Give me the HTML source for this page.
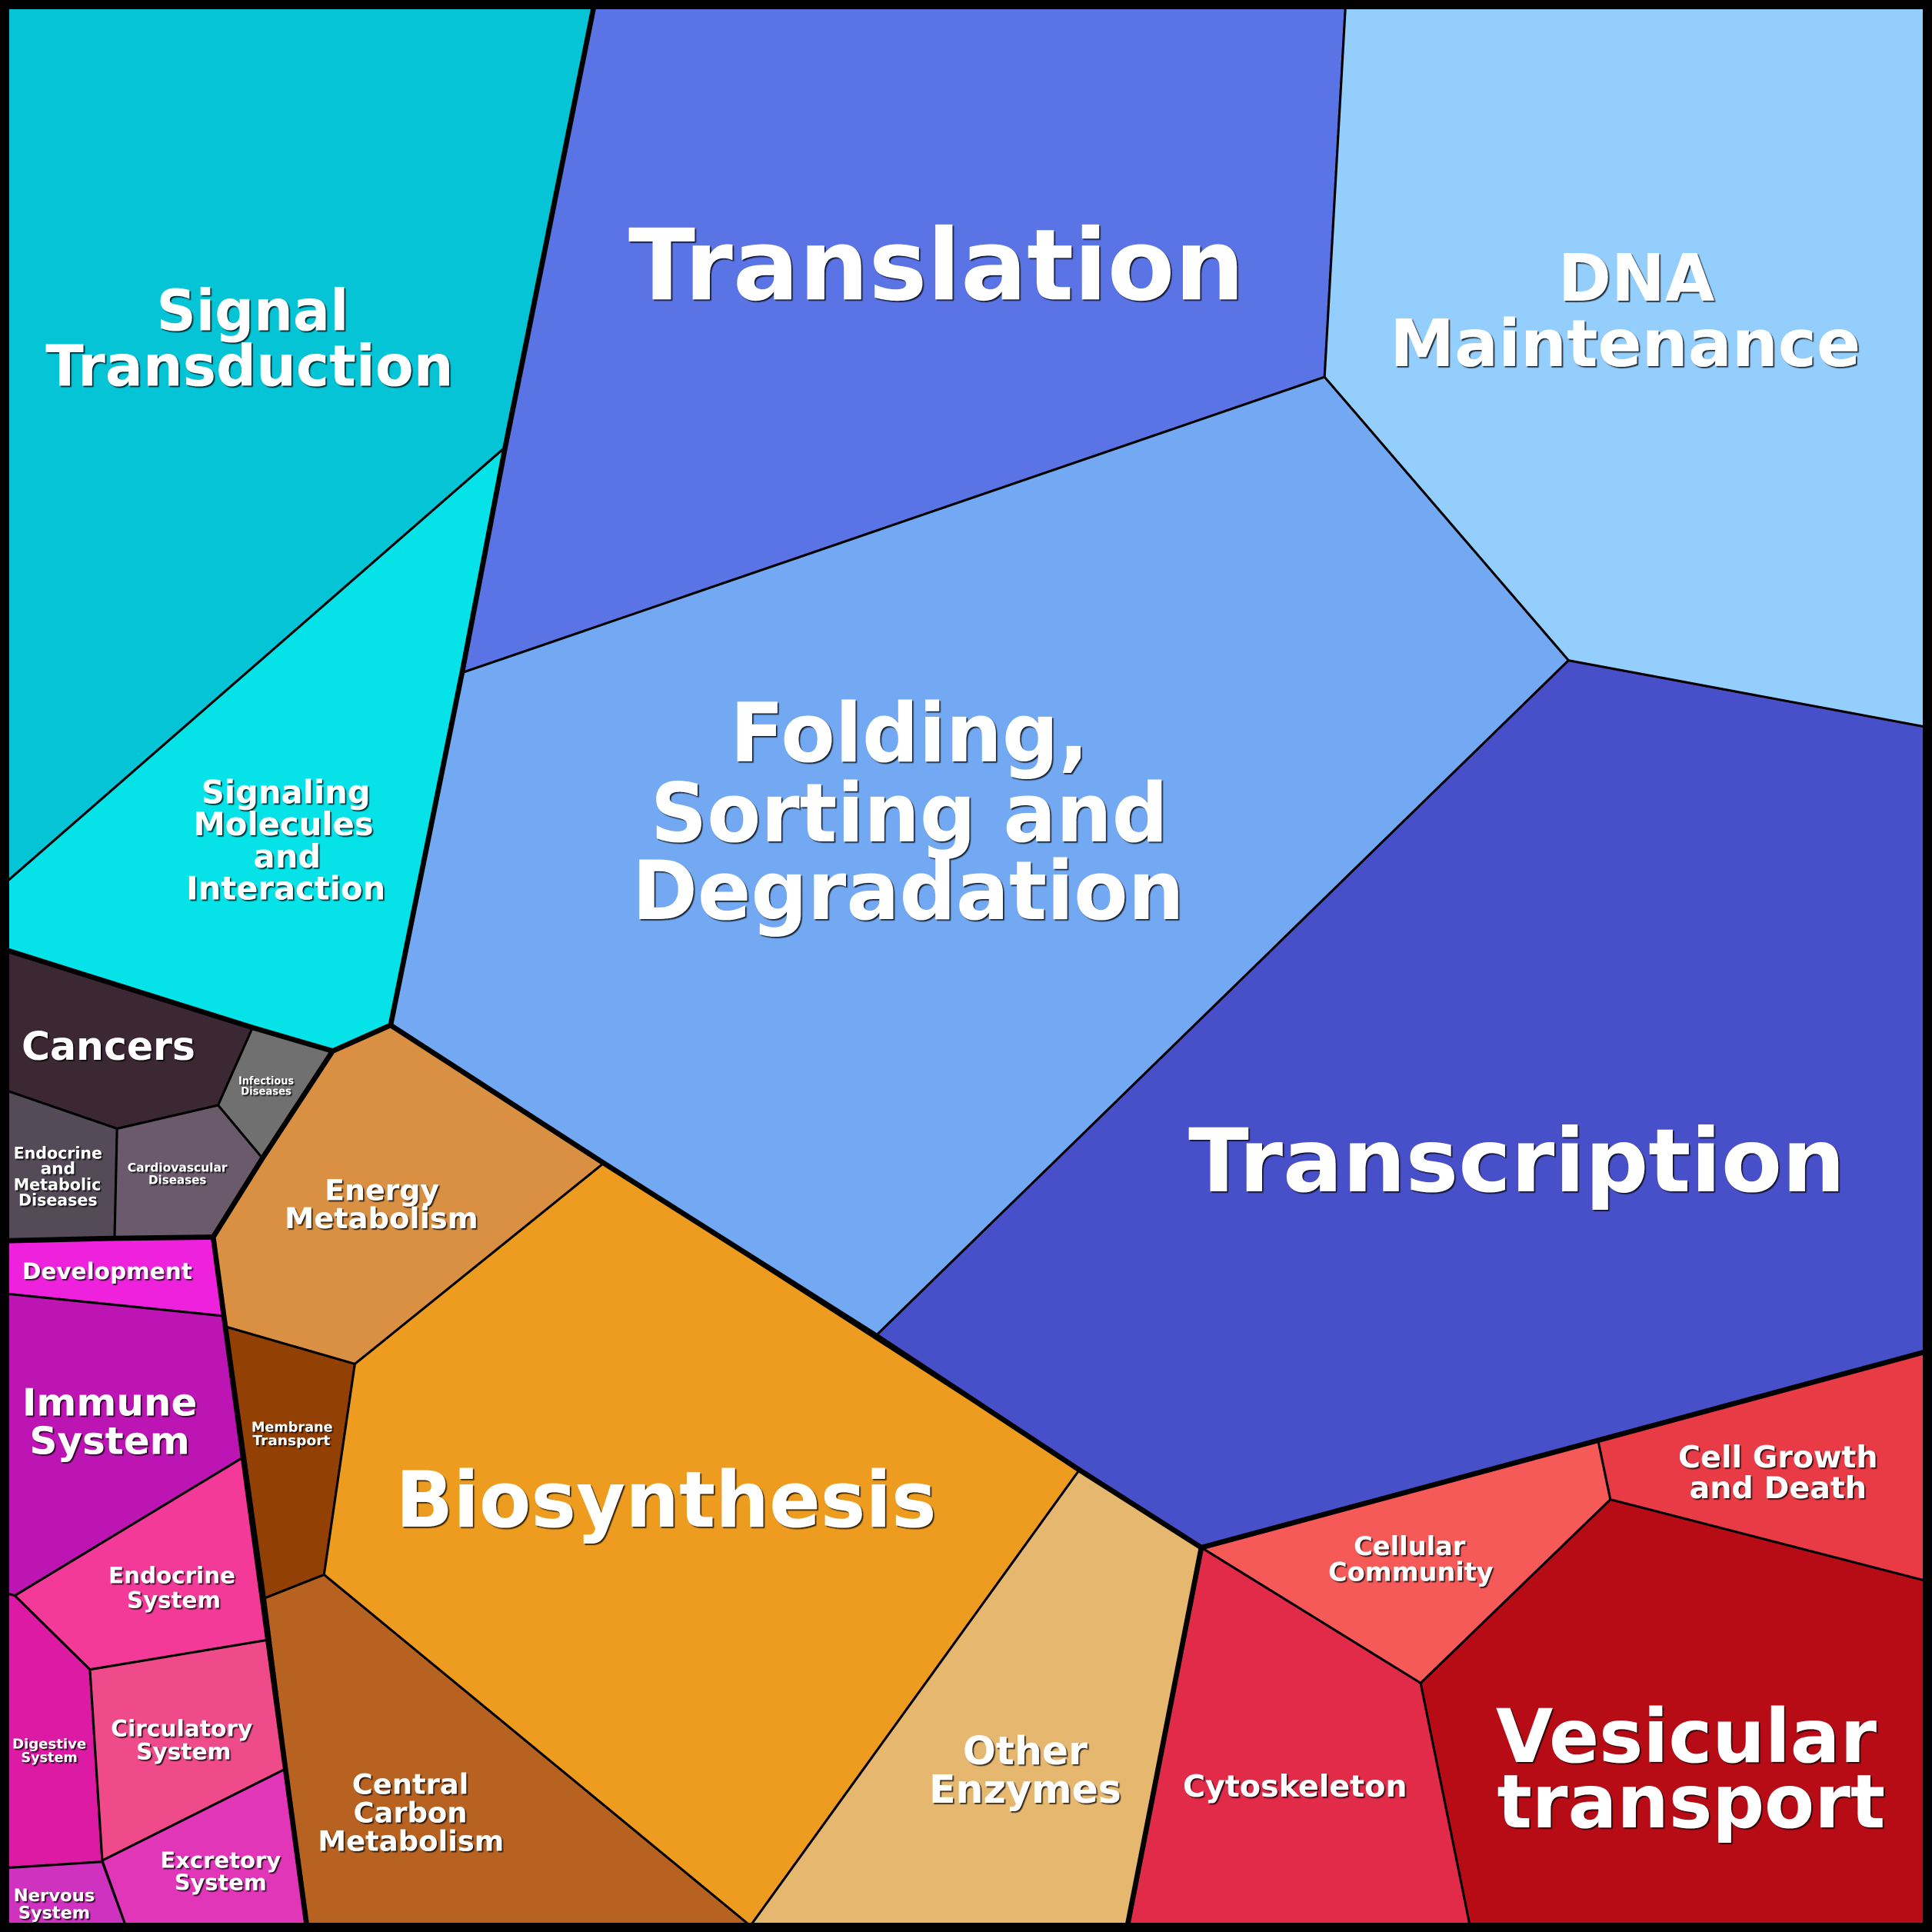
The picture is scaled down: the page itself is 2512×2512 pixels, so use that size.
<!DOCTYPE html>
<html><head><meta charset="utf-8"><style>
html,body{margin:0;padding:0;background:#000;}
svg{display:block;}
text{font-family:"DejaVu Sans","Liberation Sans",sans-serif;font-weight:bold;fill:#fff;text-anchor:middle;}
</style></head><body>
<svg xmlns="http://www.w3.org/2000/svg" width="2512" height="2512" viewBox="0 0 1568 1568">
<defs>
<filter id="sh" x="-2%" y="-2%" width="104%" height="104%">
<feDropShadow dx="1.1" dy="1.1" stdDeviation="0.25" flood-color="#000" flood-opacity="0.8"/>
</filter>
</defs>
<rect x="0" y="0" width="1568" height="1568" fill="#000"/>
<g stroke="#000" stroke-width="1.9" stroke-linejoin="round">
<!-- Environmental -->
<polygon fill="#05c4d6" points="5,5 482,5 410,363 5,716"/>
<polygon fill="#05e2e8" points="5,716 410,363 375,546 317,832 270,853 205,834 5,771"/>
<!-- Genetic -->
<polygon fill="#5a74e6" points="482,5 1092,5 1075,306 375,546 410,363"/>
<polygon fill="#93cefd" points="1092,5 1563,5 1563,590 1273,536 1075,306"/>
<polygon fill="#72a9f2" points="375,546 1075,306 1273,536 711,1084 490,944 317,832"/>
<polygon fill="#4850c9" points="1273,536 1563,590 1563,1097 1297,1169 975,1256 876,1193 711,1084"/>
<!-- Diseases -->
<polygon fill="#3c2832" points="5,771 205,834 177,897 95,916 5,885"/>
<polygon fill="#707070" points="205,834 270,853 213,940 177,897"/>
<polygon fill="#544a58" points="5,885 95,916 93,1005 5,1007"/>
<polygon fill="#6a5a6c" points="95,916 177,897 213,940 173,1004 93,1005"/>
<!-- Metabolism -->
<polygon fill="#d99043" points="270,853 317,832 490,944 288,1107 184,1077 173,1004"/>
<polygon fill="#934004" points="184,1077 288,1107 263,1278 215,1297"/>
<polygon fill="#ee9c1f" points="490,944 876,1193 609,1563 263,1278 288,1107"/>
<polygon fill="#b86222" points="215,1297 263,1278 609,1563 249,1563"/>
<polygon fill="#e6b76f" points="876,1193 975,1256 915,1563 609,1563"/>
<!-- Organismal -->
<polygon fill="#ee22dd" points="5,1007 173,1004 181,1068 5,1050"/>
<polygon fill="#bd15b3" points="5,1050 181,1068 197,1183 12,1295 5,1293"/>
<polygon fill="#f43a98" points="12,1295 197,1183 217,1331 73,1355"/>
<polygon fill="#dc1aa4" points="5,1293 12,1295 73,1355 83,1511 5,1516"/>
<polygon fill="#ef4b8b" points="73,1355 217,1331 231,1436 83,1510"/>
<polygon fill="#e236b9" points="83,1510 231,1436 249,1563 102,1563"/>
<polygon fill="#cf32bf" points="5,1516 83,1511 102,1563 5,1563"/>
<!-- Cellular -->
<polygon fill="#f55a59" points="975,1256 1297,1169 1307,1217 1153,1366"/>
<polygon fill="#e83b45" points="1297,1169 1563,1097 1563,1283 1307,1217"/>
<polygon fill="#e22b48" points="975,1256 1153,1366 1193,1563 915,1563"/>
<polygon fill="#b70c15" points="1307,1217 1563,1283 1563,1563 1193,1563 1153,1366"/>
</g>
<g stroke="#000" stroke-width="4.2" stroke-linejoin="round" stroke-linecap="round" fill="none">
<polyline points="482,5 410,363 375,546 317,832"/>
<polyline points="5,771 205,834 270,853 317,832"/>
<polyline points="317,832 490,944 711,1084 876,1193 975,1256"/>
<polyline points="975,1256 1297,1169 1563,1097"/>
<polyline points="975,1256 915,1563"/>
<polyline points="270,853 213,940 173,1004"/>
<polyline points="5,1007 93,1005 173,1004"/>
<polyline points="173,1004 249,1563"/>
</g>
<rect x="0" y="0" width="1568" height="1568" fill="none" stroke="#000" stroke-width="15"/>
<g filter="url(#sh)">
<text x="205" y="268" font-size="46" textLength="156" lengthAdjust="spacingAndGlyphs">Signal</text>
<text x="202.5" y="313" font-size="46" textLength="331" lengthAdjust="spacingAndGlyphs">Transduction</text>

<text x="760" y="243" font-size="80" textLength="500" lengthAdjust="spacingAndGlyphs">Translation</text>

<text x="1328" y="244" font-size="53" textLength="127" lengthAdjust="spacingAndGlyphs">DNA</text>
<text x="1319" y="297" font-size="53" textLength="382" lengthAdjust="spacingAndGlyphs">Maintenance</text>

<text x="738" y="618" font-size="66" textLength="291" lengthAdjust="spacingAndGlyphs">Folding,</text>
<text x="738" y="683" font-size="66" textLength="420" lengthAdjust="spacingAndGlyphs">Sorting and</text>
<text x="737" y="746" font-size="66" textLength="448" lengthAdjust="spacingAndGlyphs">Degradation</text>

<text x="1231" y="967" font-size="71" textLength="533" lengthAdjust="spacingAndGlyphs">Transcription</text>

<text x="232" y="652" font-size="26">Signaling</text>
<text x="230" y="678" font-size="26">Molecules</text>
<text x="233" y="704" font-size="26">and</text>
<text x="232" y="730" font-size="26">Interaction</text>

<text x="88" y="860" font-size="31.5" textLength="141" lengthAdjust="spacingAndGlyphs">Cancers</text>

<text x="216" y="880" font-size="9" textLength="45" lengthAdjust="spacingAndGlyphs">Infectious</text>
<text x="216" y="888.5" font-size="9" textLength="41" lengthAdjust="spacingAndGlyphs">Diseases</text>

<text x="47" y="940.5" font-size="13.5" textLength="72" lengthAdjust="spacingAndGlyphs">Endocrine</text>
<text x="47" y="953" font-size="13.5">and</text>
<text x="46.5" y="966" font-size="13.5" textLength="71" lengthAdjust="spacingAndGlyphs">Metabolic</text>
<text x="47" y="978.5" font-size="13.5" textLength="64" lengthAdjust="spacingAndGlyphs">Diseases</text>

<text x="144" y="951" font-size="10" textLength="81" lengthAdjust="spacingAndGlyphs">Cardiovascular</text>
<text x="144" y="961" font-size="10" textLength="47" lengthAdjust="spacingAndGlyphs">Diseases</text>

<text x="310" y="974" font-size="23.5" textLength="93" lengthAdjust="spacingAndGlyphs">Energy</text>
<text x="309.5" y="997" font-size="23.5" textLength="157" lengthAdjust="spacingAndGlyphs">Metabolism</text>

<text x="87" y="1038" font-size="18.4" textLength="138" lengthAdjust="spacingAndGlyphs">Development</text>

<text x="89" y="1149" font-size="30.5" textLength="142" lengthAdjust="spacingAndGlyphs">Immune</text>
<text x="89" y="1180" font-size="30.5" textLength="130" lengthAdjust="spacingAndGlyphs">System</text>

<text x="237" y="1162" font-size="11" textLength="66" lengthAdjust="spacingAndGlyphs">Membrane</text>
<text x="236.5" y="1173" font-size="11" textLength="63" lengthAdjust="spacingAndGlyphs">Transport</text>

<text x="540.5" y="1239" font-size="63" textLength="439" lengthAdjust="spacingAndGlyphs">Biosynthesis</text>

<text x="139.5" y="1285" font-size="18.3" textLength="103" lengthAdjust="spacingAndGlyphs">Endocrine</text>
<text x="141" y="1305" font-size="18.3">System</text>

<text x="40" y="1419" font-size="11" textLength="60" lengthAdjust="spacingAndGlyphs">Digestive</text>
<text x="40" y="1430" font-size="11">System</text>

<text x="147.5" y="1409" font-size="18.5" textLength="115" lengthAdjust="spacingAndGlyphs">Circulatory</text>
<text x="149" y="1428" font-size="18.5">System</text>

<text x="179" y="1516" font-size="18" textLength="98" lengthAdjust="spacingAndGlyphs">Excretory</text>
<text x="179" y="1534" font-size="18">System</text>

<text x="44" y="1543" font-size="14" textLength="66" lengthAdjust="spacingAndGlyphs">Nervous</text>
<text x="44" y="1557" font-size="14">System</text>

<text x="333" y="1456" font-size="23">Central</text>
<text x="333" y="1479" font-size="23">Carbon</text>
<text x="333.5" y="1502" font-size="23" textLength="151" lengthAdjust="spacingAndGlyphs">Metabolism</text>

<text x="832" y="1432" font-size="31.5">Other</text>
<text x="832" y="1463" font-size="31.5" textLength="156" lengthAdjust="spacingAndGlyphs">Enzymes</text>

<text x="1051" y="1458" font-size="24.7" textLength="182" lengthAdjust="spacingAndGlyphs">Cytoskeleton</text>

<text x="1144" y="1262" font-size="21">Cellular</text>
<text x="1145" y="1283" font-size="21" textLength="134" lengthAdjust="spacingAndGlyphs">Community</text>

<text x="1443" y="1191" font-size="24.7" textLength="162" lengthAdjust="spacingAndGlyphs">Cell Growth</text>
<text x="1443" y="1216" font-size="24.7">and Death</text>

<text x="1368.5" y="1430" font-size="60" textLength="309" lengthAdjust="spacingAndGlyphs">Vesicular</text>
<text x="1372.5" y="1483" font-size="60" textLength="315" lengthAdjust="spacingAndGlyphs">transport</text>
</g>
</svg>
</body></html>
